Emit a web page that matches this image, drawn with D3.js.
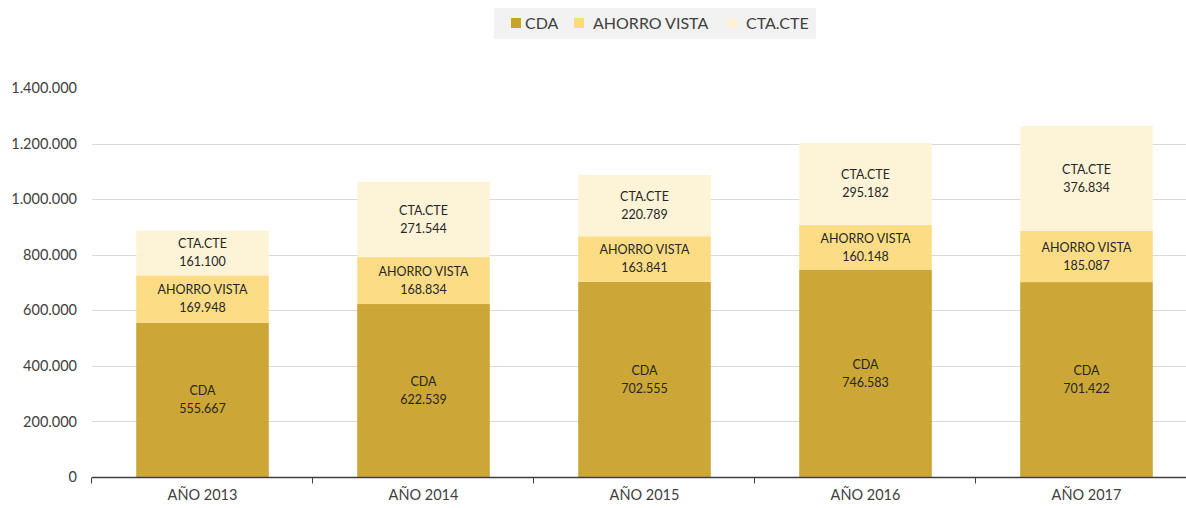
<!DOCTYPE html>
<html>
<head>
<meta charset="utf-8">
<script src="https://cdn.jsdelivr.net/npm/d3@7"></script>
<style>
  body { margin: 0; background: #fff; }
  svg { display: block; font-family: Lato, "Open Sans", sans-serif; }
</style>
</head>
<body>
<svg id="chart" width="1186" height="508"></svg>
<script>
// data
const years = ["AÑO 2013", "AÑO 2014", "AÑO 2015", "AÑO 2016", "AÑO 2017"];
const seriesNames = ["CDA", "AHORRO VISTA", "CTA.CTE"];
const cda = [555667, 622539, 702555, 746583, 701422];
const ahorro = [169948, 168834, 163841, 160148, 185087];
const ctacte = [161100, 271544, 220789, 295182, 376834];
const yTicks = [0, 200000, 400000, 600000, 800000, 1000000, 1200000, 1400000];
const colors = ["#C9A22C", "#FCDB7E", "#FDF2D5"];

// build rows for the stack
const rows = years.map(function(y, i) {
  return { year: y, "CDA": cda[i], "AHORRO VISTA": ahorro[i], "CTA.CTE": ctacte[i] };
});

const svg = d3.select("#chart");
const plotLeft = 92, plotRight = 1197, plotTop = 88, plotBottom = 477;

const x = d3.scaleBand().domain(years).range([plotLeft, plotRight]).paddingInner(0.4).paddingOuter(0.2);
const y = d3.scaleLinear().domain([0, 1400000]).range([plotBottom, plotTop]);

// es-style number format with dot thousands
const fmt = d3.formatLocale({ decimal: ",", thousands: ".", grouping: [3], currency: ["", ""] }).format(",d");

// gridlines (no line at the top tick)
svg.append("g")
  .selectAll("line")
  .data(yTicks.filter(function(d) { return d > 0 && d < 1400000; }))
  .join("line")
  .attr("x1", plotLeft).attr("x2", 1186)
  .attr("y1", function(d) { return Math.round(y(d)) + 0.5; })
  .attr("y2", function(d) { return Math.round(y(d)) + 0.5; })
  .attr("stroke", "#D9D9D9").attr("stroke-width", 1);

// y tick labels
svg.append("g")
  .selectAll("text")
  .data(yTicks)
  .join("text")
  .attr("x", 77)
  .attr("y", function(d) { return y(d); })
  .attr("dy", "0.35em")
  .attr("text-anchor", "end")
  .attr("font-size", 14.5)
  .attr("fill", "#404040")
  .text(function(d) { return fmt(d); });

const stacked = d3.stack().keys(seriesNames)(rows);

// bars
const layers = svg.append("g")
  .selectAll("g")
  .data(stacked)
  .join("g")
  .attr("fill", function(d, i) { return colors[i]; })
  .attr("fill-opacity", 0.95);

layers.selectAll("rect")
  .data(function(d) { return d; })
  .join("rect")
  .attr("x", function(d) { return x(d.data.year); })
  .attr("width", x.bandwidth())
  .attr("y", function(d) { return y(d[1]); })
  .attr("height", function(d) { return y(d[0]) - y(d[1]); });

// segment labels
stacked.forEach(function(layer) {
  const g = svg.append("g").attr("font-size", 12.5).attr("fill", "#262626").attr("text-anchor", "middle");
  layer.forEach(function(d) {
    const cx = x(d.data.year) + x.bandwidth() / 2;
    const cy = (y(d[0]) + y(d[1])) / 2;
    g.append("text").attr("x", cx).attr("y", cy - 9).attr("dy", "0.35em").text(layer.key);
    g.append("text").attr("x", cx).attr("y", cy + 9).attr("dy", "0.35em").text(fmt(d[1] - d[0]));
  });
});

// x axis
const xAxis = svg.append("g").attr("transform", "translate(0," + (plotBottom + 0.5) + ")");
xAxis.append("line").attr("x1", plotLeft).attr("x2", 1186).attr("stroke", "#404040").attr("stroke-width", 1.3);
const step = x.step();
xAxis.selectAll("line.tick")
  .data(d3.range(years.length))
  .join("line")
  .attr("class", "tick")
  .attr("x1", function(i) { return x(years[i]) - step * 0.2 - 0.5; })
  .attr("x2", function(i) { return x(years[i]) - step * 0.2 - 0.5; })
  .attr("y1", 0).attr("y2", 6)
  .attr("stroke", "#404040");
xAxis.selectAll("text")
  .data(years)
  .join("text")
  .attr("x", function(d) { return x(d) + x.bandwidth() / 2; })
  .attr("y", 22)
  .attr("text-anchor", "middle")
  .attr("font-size", 14.5)
  .attr("fill", "#404040")
  .text(function(d) { return d; });

// legend
const legend = svg.append("g");
legend.append("rect").attr("x", 494).attr("y", 8).attr("width", 322).attr("height", 31).attr("fill", "#F2F2F2");
const legX = [511, 574, 727];
seriesNames.forEach(function(name, i) {
  legend.append("rect").attr("x", legX[i]).attr("y", 18).attr("width", 10).attr("height", 10).attr("fill", colors[i]);
  legend.append("text").attr("x", legX[i] + (i == 0 ? 14 : 19)).attr("y", 23.5).attr("dy", "0.35em")
    .attr("font-size", 16).attr("fill", "#404040").text(name);
});
</script>
</body>
</html>
